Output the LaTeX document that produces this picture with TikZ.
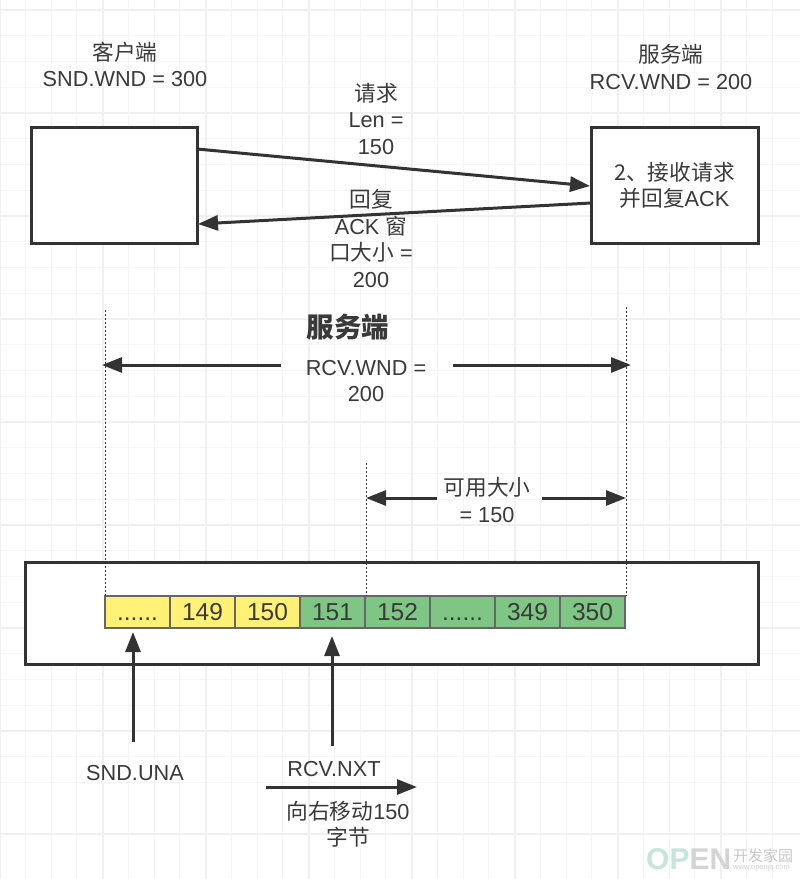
\documentclass[tikz,border=0pt]{standalone}
\usepackage{fontspec}
\setmainfont{Liberation Sans}
\newfontfamily\cjk{Noto Sans CJK SC}
\usetikzlibrary{arrows.meta}
\definecolor{ink}{HTML}{333333}
\definecolor{txt}{HTML}{3A3A3A}
\definecolor{yel}{HTML}{FFF176}
\definecolor{grn}{HTML}{7FC583}
\definecolor{cellb}{HTML}{666666}
\tikzset{
  box/.style={draw=ink,line width=3pt,fill=white,inner sep=0pt,outer sep=0pt,anchor=north west,text=txt,align=center},
  cell/.style={draw=cellb,line width=1.6pt,inner sep=0pt,outer sep=0pt,minimum width=65pt,minimum height=32pt,anchor=north west,text=txt,text height=17pt,text depth=0pt,font=\fontsize{24.5}{24}\selectfont},
  ycell/.style={cell,fill=yel},
  gcell/.style={cell,fill=grn},
  lab/.style={text=txt,align=center,inner sep=0pt,font=\fontsize{21.7}{26.5}\selectfont},
  conn/.style={draw=ink,line width=3pt,-{Triangle[length=20pt,width=15pt]}},
  guide/.style={draw=ink,line width=1pt,dash pattern=on 2pt off 2pt},
}
\begin{document}
\begin{tikzpicture}[x=1pt,y=-1pt]
\useasboundingbox (0,0) rectangle (800,879);
\fill[white] (0,0) rectangle (800,879);
% grid
\foreach \k in {-3,...,26}{
  \draw[line width=1pt,draw=black!4] ({25.75*\k+102.5},0) -- ({25.75*\k+102.5},879);
  \draw[line width=1pt,draw=black!4] (0,{25.75*\k+113}) -- (800,{25.75*\k+113});
}
\foreach \k in {-1,...,7}{
  \draw[line width=2pt,draw=black!6] ({103*\k+102.5},0) -- ({103*\k+102.5},879);
  \draw[line width=2pt,draw=black!6] (0,{103*\k+113}) -- (800,{103*\k+113});
}
% main boxes
\node[box,minimum width=166pt,minimum height=116pt] (client) at (31,127) {};
\node[box,minimum width=167pt,minimum height=116pt,font=\fontsize{21.7}{26}\selectfont] (server) at (591,127) {{\cjk 2、接收请求}\\{\cjk 并回复}ACK};
\node[box,minimum width=733pt,minimum height=102pt] (buffer) at (25,562) {};
% cells
\node[ycell] (c1) at (105,596) {......};
\node[ycell] (c2) at (170,596) {149};
\node[ycell] (c3) at (235,596) {150};
\node[gcell] (c4) at (300,596) {151};
\node[gcell] (c5) at (365,596) {152};
\node[gcell] (c6) at (430,596) {......};
\node[gcell] (c7) at (495,596) {349};
\node[gcell] (c8) at (560,596) {350};
% connectors between boxes
\coordinate (clientOut) at (197,149);
\coordinate (serverIn) at (590,186);
\coordinate (serverOut) at (591,203);
\coordinate (clientIn) at (198,224);
\draw[conn] (clientOut) -- (serverIn);
\draw[conn] (serverOut) -- (clientIn);
% guides
\coordinate (g1t) at (105.5,310);
\coordinate (g2t) at (626,307);
\coordinate (g3t) at (366,463);
\draw[guide] (g1t) -- (g1t |- c1.north);
\draw[guide] (g2t) -- (g2t |- c8.north);
\draw[guide] (g3t) -- (g3t |- c5.north);
% labels
\node[lab] (lclient) at (125,64.5) {{\cjk 客户端}\\SND.WND = 300};
\node[lab] (lserver) at (671,67) {{\cjk 服务端}\\RCV.WND = 200};
\node[lab] (lreq) at (376,118.5) {{\cjk 请求}\\Len =\\150};
\node[lab] (lack) at (371,238.5) {{\cjk 回复}\\ACK {\cjk 窗}\\{\cjk 口大小} =\\200};
\node[text=txt,inner sep=0pt,font=\fontsize{27.5}{30}\selectfont\bfseries] (ltitle) at (348,327) {\cjk\bfseries 服务端};
\node[lab] (lrcv) at (366,381) {RCV.WND =\\200};
\node[lab] (lavail) at (487,500) {{\cjk 可用大小}\\= 150};
\node[lab] (luna) at (135,773) {SND.UNA};
\node[lab] (lnxt) at (334,769) {RCV.NXT};
\node[lab] (lmove) at (348,824) {{\cjk 向右移动}150\\{\cjk 字节}};
% window arrows
\coordinate (a1s) at (281,365); \coordinate (a1e) at (102,365);
\coordinate (a2s) at (453,365); \coordinate (a2e) at (631,365);
\coordinate (a3s) at (437,498); \coordinate (a3e) at (366,498);
\coordinate (a4s) at (542,498); \coordinate (a4e) at (626,498);
\draw[conn] (a1s) -- (a1e);
\draw[conn] (a2s) -- (a2e);
\draw[conn] (a3s) -- (a3e);
\draw[conn] (a4s) -- (a4e);
% pointers
\coordinate (p1s) at (133,742); \coordinate (p1e) at (133,632);
\coordinate (p2s) at (332,746); \coordinate (p2e) at (332,636);
\coordinate (p3s) at (266,787); \coordinate (p3e) at (417,787);
\draw[conn] (p1s) -- (p1e);
\draw[conn] (p2s) -- (p2e);
\draw[conn] (p3s) -- (p3e);
% watermark
\node[inner sep=0pt,anchor=west,font=\fontsize{30}{31}\selectfont\bfseries] (wm1) at (646,859) {\textcolor[HTML]{C4E6DC}{OP}\textcolor[HTML]{D4D4D4}{EN}};
\node[inner sep=0pt,anchor=west,text=black!22,font=\fontsize{15}{15}\selectfont] (wm2) at (733,856) {\cjk 开发家园};
\node[inner sep=0pt,anchor=west,text=black!18,font=\fontsize{7.5}{7}\selectfont] (wm3) at (733,868) {www.openjq.com};
\end{tikzpicture}
\end{document}
